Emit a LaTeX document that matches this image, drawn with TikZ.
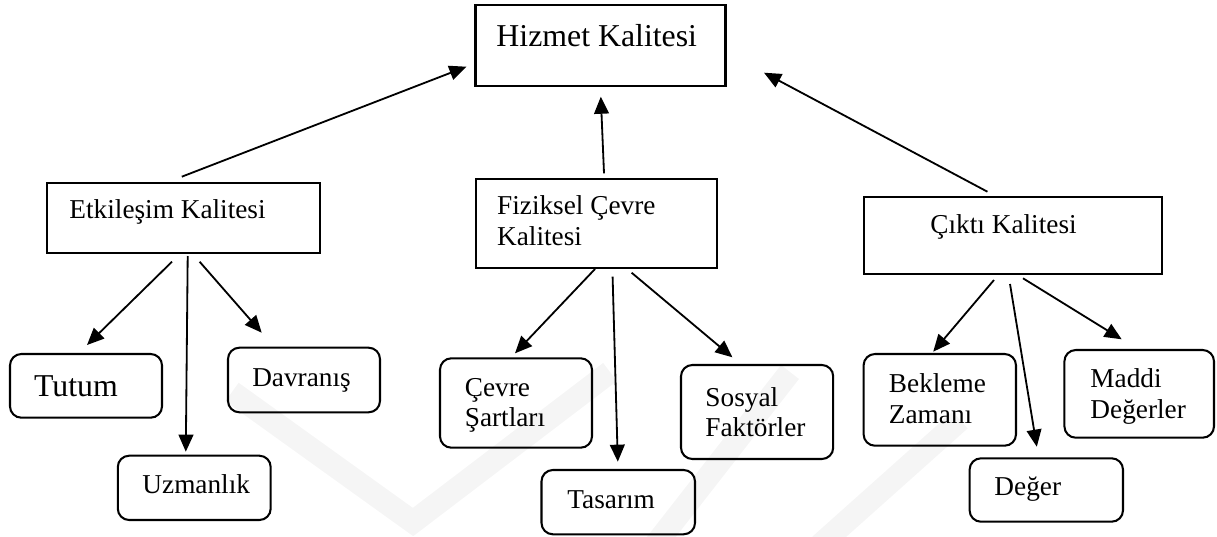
\documentclass[tikz,border=0pt]{standalone}
\usepackage{fontspec}
\setmainfont{Liberation Serif}
\usetikzlibrary{arrows.meta,calc,fit}

\begin{document}
\begin{tikzpicture}[x=0.44pt,y=-0.44pt,
  box/.style={draw,line width=0.9pt,inner sep=0pt,outer sep=0pt},
  rbox/.style={box,rounded corners=5pt},
  lbl/.style={anchor=base west,inner sep=0pt,align=left,
              font=\fontsize{12}{13.4}\selectfont},
  big/.style={font=\fontsize{14}{16}\selectfont},
  arr/.style={line width=0.8pt,-{Triangle[length=7.5pt,width=6.5pt]}},
  wm/.style={line width=10pt,color=black!4,line join=miter}]

\useasboundingbox (0,0) rectangle (1217,536);

% faint background emblem
\begin{scope}
  \clip (0,0) rectangle (1217,536);
  \draw[wm] (232,392) -- (413,522) -- (610,372);
  \draw[wm] (655,545) -- (790,372);
  \draw[wm] (820,545) -- (960,420);
\end{scope}

% top level
\node[box,fit={(475.5,5) (725.5,86)}] (hiz) {};
\node[lbl,big] (hizt) at (496,46.5) {Hizmet Kalitesi};

% second level
\node[box,fit={(47.4,182.7) (320,253.3)}] (etk) {};
\node[lbl] (etkt) at (69,218) {Etkileşim Kalitesi};

\node[box,fit={(476,179) (717,267.7)}] (fiz) {};
\node[lbl] (fizt) at (496.7,245) {Fiziksel Çevre\\Kalitesi};

\node[box,fit={(863.6,196.7) (1162,274)}] (cik) {};
\node[lbl] (cikt) at (930,233.3) {Çıktı Kalitesi};

% third level, rounded boxes
\node[rbox,fit={(10,354) (162,417.7)}] (tut) {};
\node[lbl,big] (tutt) at (33.6,396.7) {Tutum};

\node[rbox,fit={(228,347.7) (380,412.3)}] (dav) {};
\node[lbl] (davt) at (251.8,386.7) {Davranış};

\node[rbox,fit={(117.8,455.7) (270.7,520)}] (uzm) {};
\node[lbl] (uzmt) at (142,493.3) {Uzmanlık};

\node[rbox,fit={(440,358.3) (592,447.7)}] (cev) {};
\node[lbl] (cevt) at (464.4,426.7) {Çevre\\Şartları};

\node[rbox,fit={(541.5,470) (695,534.3)}] (tas) {};
\node[lbl] (tast) at (567,508.3) {Tasarım};

\node[rbox,fit={(681,365) (833.2,459)}] (sos) {};
\node[lbl] (sost) at (705,436.7) {Sosyal\\Faktörler};

\node[rbox,fit={(863.6,354) (1016,445.7)}] (bek) {};
\node[lbl] (bekt) at (888.5,423.3) {Bekleme\\Zamanı};

\node[rbox,fit={(1064.4,350) (1214,437.7)}] (mad) {};
\node[lbl] (madt) at (1090,418.3) {Maddi\\Değerler};

\node[rbox,fit={(969.6,458.3) (1123,521.7)}] (deg) {};
\node[lbl] (degt) at (994,495) {Değer};

% arrows into the top box
\draw[arr] ($(etk.north west)+(134.4,-6)$) -- ($(hiz.north west)+(-9.1,61.7)$);
\draw[arr] ($(fiz.north west)+(128,-5.7)$) -- ($(hiz.south west)+(125.3,10.7)$);
\draw[arr] ($(cik.north west)+(123.8,-5)$) -- ($(hiz.north east)+(38.5,67.7)$);

% arrows down from the second level
\draw[arr] ($(etk.south west)+(124.6,8.4)$) -- ($(tut.north west)+(77,-9)$);
\draw[arr] ($(etk.south west)+(140.3,2.7)$) -- ($(uzm.north west)+(68,-4)$);
\draw[arr] ($(etk.south west)+(152.2,8.4)$) -- ($(dav.north west)+(33.7,-15)$);

\draw[arr] ($(fiz.south west)+(119,1.3)$) -- ($(cev.north west)+(75,-5)$);
\draw[arr] ($(fiz.south west)+(136.6,9)$) -- ($(tas.north west)+(76.3,-8.3)$);
\draw[arr] ($(fiz.south west)+(155.6,5)$) -- ($(sos.north west)+(51.4,-7.7)$);

\draw[arr] ($(cik.south west)+(130.4,6)$) -- ($(bek.north west)+(69.6,-2.3)$);
\draw[arr] ($(cik.south west)+(146.4,10)$) -- ($(deg.north west)+(67.2,-11.6)$);
\draw[arr] ($(cik.south west)+(159.4,4.3)$) -- ($(mad.north west)+(57.3,-10.7)$);
\end{tikzpicture}
\end{document}
